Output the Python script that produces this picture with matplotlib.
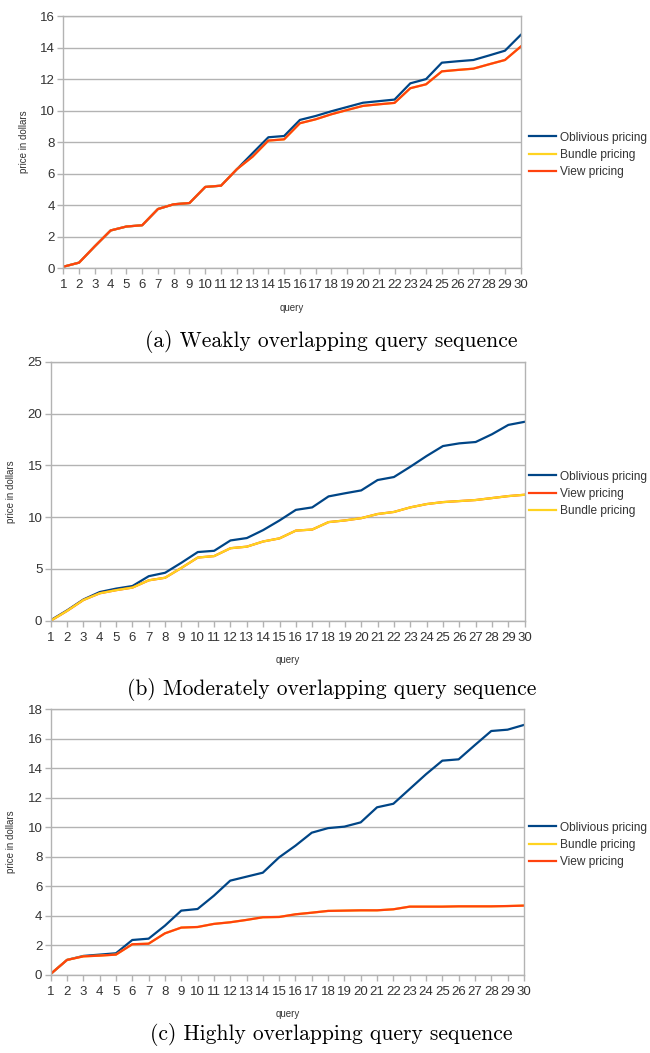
import matplotlib.pyplot as plt
import numpy as np

plt.rcParams["font.family"] = ["Liberation Sans", "DejaVu Sans"]

queries = list(range(1, 31))

# (a) weakly overlapping
a_oblivious = [0.10, 0.36, 1.40, 2.40, 2.65, 2.73, 3.76, 4.06, 4.14, 5.16,
               5.24, 6.28, 7.30, 8.31, 8.39, 9.41, 9.66, 9.96, 10.23, 10.50,
               10.60, 10.70, 11.73, 12.00, 13.04, 13.13, 13.21, 13.50, 13.80, 14.80]
a_bundle = [0.10, 0.36, 1.40, 2.40, 2.65, 2.73, 3.76, 4.06, 4.14, 5.16,
            5.24, 6.28, 7.08, 8.10, 8.18, 9.20, 9.45, 9.77, 10.04, 10.30,
            10.40, 10.49, 11.42, 11.67, 12.49, 12.58, 12.66, 12.94, 13.21, 14.06]
a_view = list(a_bundle)

# (b) moderately overlapping
b_oblivious = [0.05, 1.00, 2.05, 2.77, 3.10, 3.35, 4.30, 4.63, 5.60, 6.63,
               6.75, 7.75, 7.98, 8.75, 9.68, 10.70, 10.94, 12.00, 12.30, 12.58,
               13.58, 13.87, 14.86, 15.90, 16.86, 17.12, 17.25, 18.00, 18.90, 19.20]
b_bundle = [0.00, 0.95, 2.00, 2.65, 2.95, 3.20, 3.90, 4.15, 5.10, 6.10,
            6.24, 7.00, 7.15, 7.65, 7.95, 8.70, 8.80, 9.52, 9.68, 9.90,
            10.30, 10.50, 10.94, 11.26, 11.45, 11.55, 11.65, 11.84, 12.03, 12.16]
b_view = list(b_bundle)

# (c) highly overlapping
c_oblivious = [0.07, 1.02, 1.29, 1.38, 1.47, 2.37, 2.46, 3.34, 4.36, 4.47,
               5.37, 6.39, 6.66, 6.93, 7.97, 8.76, 9.64, 9.95, 10.05, 10.34,
               11.36, 11.60, 12.60, 13.60, 14.52, 14.61, 15.58, 16.53, 16.62, 16.94]
c_view = [0.07, 1.02, 1.26, 1.31, 1.38, 2.08, 2.12, 2.82, 3.21, 3.25,
          3.46, 3.57, 3.73, 3.91, 3.93, 4.11, 4.22, 4.34, 4.36, 4.38,
          4.38, 4.45, 4.63, 4.63, 4.63, 4.65, 4.65, 4.65, 4.67, 4.70]
c_bundle = list(c_view)

BLUE = "#004586"
ORANGE = "#ff420e"
YELLOW = "#ffd320"
GRID = "#b3b3b3"
TEXT = "#333333"


def panel(fig, rect, series, ymax, ystep, caption, cap_y, legend_y):
    ax = fig.add_axes(rect)
    for values, color, label in series:
        ax.plot(queries, values, color=color, lw=1.6, label=label)
    ax.set_xlim(1, 30)
    ax.set_ylim(0, ymax)
    ax.set_xticks(queries)
    ax.set_yticks(np.arange(0, ymax + 1, ystep))
    ax.yaxis.grid(True, color=GRID, lw=1)
    ax.set_axisbelow(True)
    for s in ax.spines.values():
        s.set_color(GRID)
        s.set_linewidth(1)
    ax.tick_params(colors=GRID, labelcolor=TEXT, labelsize=9.5, length=4, width=1, pad=2)
    ax.tick_params(axis="x", pad=4)
    ax.set_xlabel("query", fontsize=7, color=TEXT, labelpad=8)
    ax.set_ylabel("price in dollars", fontsize=7, color=TEXT, labelpad=8)
    # legend keeps the original series order
    handles, labels = ax.get_legend_handles_labels()
    order = [labels.index(l) for l in legend_y[1]]
    fig.legend([handles[i] for i in order], [labels[i] for i in order],
               loc="center left", bbox_to_anchor=(0.805, legend_y[0]),
               frameon=False, fontsize=8.6, handlelength=2.2, handletextpad=0.35,
               labelspacing=0.45, borderpad=0, labelcolor=TEXT)
    fig.text(0.51, cap_y, caption, ha="center", va="center",
             fontsize=15.5, family="cmr10")
    return ax


fig = plt.figure(figsize=(6.5, 10.53), dpi=100)

panel(fig, [0.0974, 0.7452, 0.7037, 0.2396],
      [(a_oblivious, BLUE, "Oblivious pricing"),
       (a_bundle, YELLOW, "Bundle pricing"),
       (a_view, ORANGE, "View pricing")],
      16, 2, "(a) Weakly overlapping query sequence", 1 - 341.5 / 1053,
      (1 - 155 / 1053, ["Oblivious pricing", "Bundle pricing", "View pricing"]))

panel(fig, [0.078, 0.4105, 0.7292, 0.246],
      [(b_oblivious, BLUE, "Oblivious pricing"),
       (b_view, ORANGE, "View pricing"),
       (b_bundle, YELLOW, "Bundle pricing")],
      25, 5, "(b) Moderately overlapping query sequence", 1 - 689.5 / 1053,
      (1 - 494 / 1053, ["Oblivious pricing", "View pricing", "Bundle pricing"]))

panel(fig, [0.078, 0.0741, 0.728, 0.2523],
      [(c_oblivious, BLUE, "Oblivious pricing"),
       (c_bundle, YELLOW, "Bundle pricing"),
       (c_view, ORANGE, "View pricing")],
      18, 2, "(c) Highly overlapping query sequence", 1 - 1035 / 1053,
      (1 - 845 / 1053, ["Oblivious pricing", "Bundle pricing", "View pricing"]))

fig.savefig("out.png", dpi=100)
